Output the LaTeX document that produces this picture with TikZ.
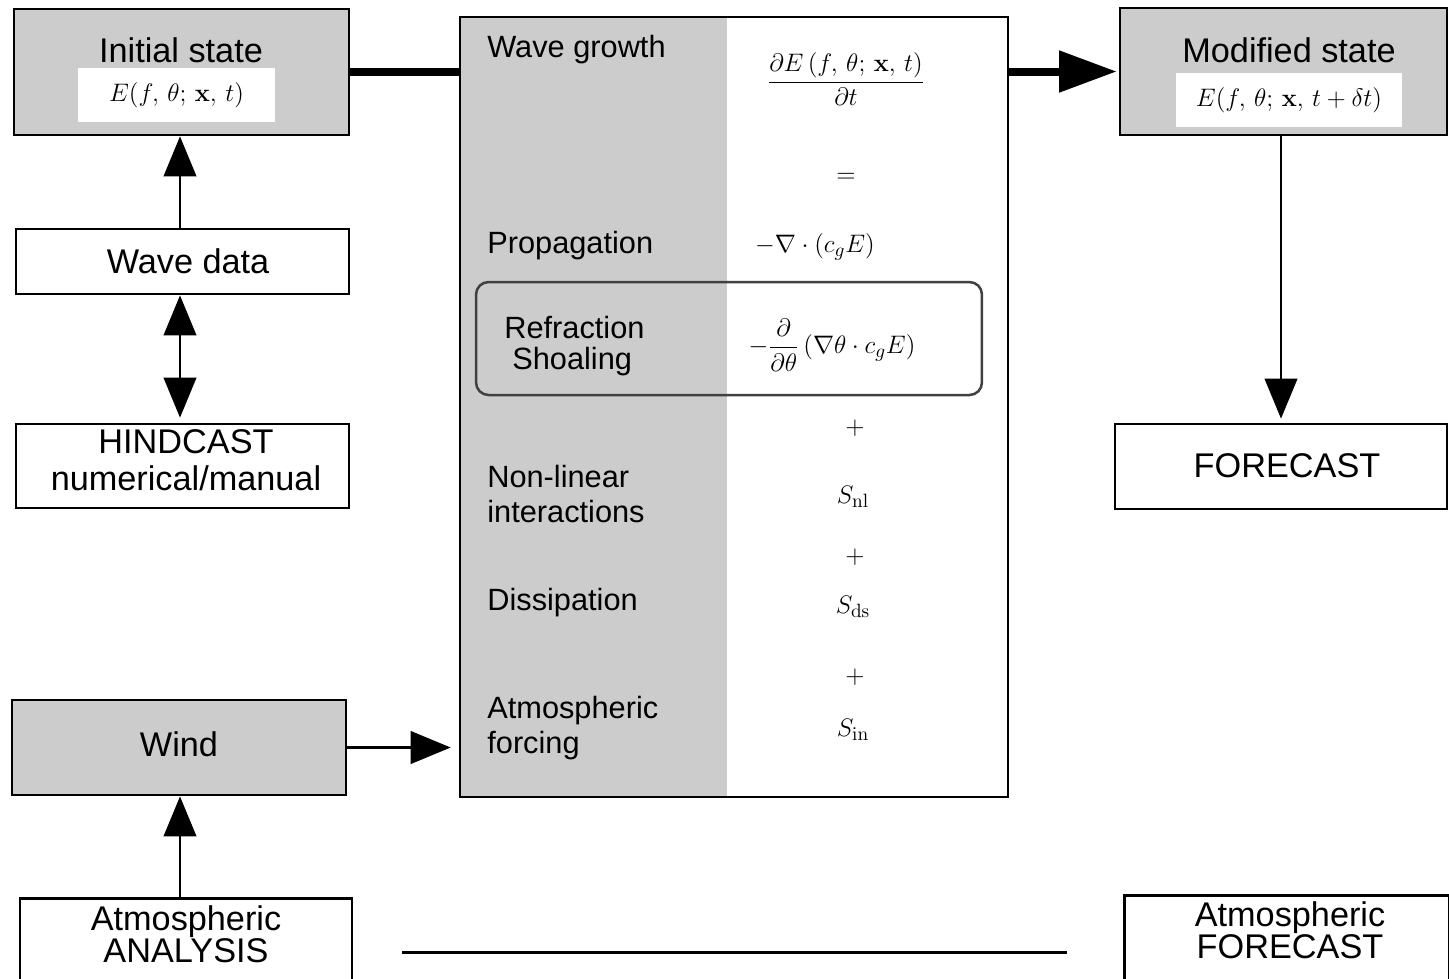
\documentclass[tikz,border=0pt]{standalone}
\usepackage{amsmath}
\usepackage{amssymb}
\usepackage[no-math]{fontspec}
\setmainfont{Liberation Sans}
\usepackage{tikz}
\usetikzlibrary{shapes, arrows.meta, positioning, calc}

\definecolor{gristrait}{RGB}{204,204,204}

\tikzset{
  boite/.style={draw, line width=0.055cm, inner sep=0pt},
  boitegrise/.style={boite, fill=gristrait},
  encart/.style={fill=white, inner sep=0pt, font=\fontsize{15}{18}\selectfont},
  titre/.style={inner sep=0pt, align=center, font=\fontsize{19.5}{20}\selectfont},
  etiq/.style={anchor=west, inner sep=0pt, align=left, font=\fontsize{17.5}{20}\selectfont},
  terme/.style={inner sep=0pt, font=\fontsize{15}{18}\selectfont},
  fleche/.style={line width=0.05cm, -{Triangle[width=0.65cm,length=0.8cm]}},
  grosfleche/.style={line width=0.16cm, -{Triangle[width=0.8cm,length=1.15cm]}}
}

\begin{document}
\begin{tikzpicture}[x=0.02cm, y=-0.02cm]
            % Cadre de l'image (les boites du bas sont coupees)
            \clip (0,0) rectangle (1449,978);

            % Etat initial
            \node[boitegrise, minimum width=6.7cm, minimum height=2.52cm] (init) at (181.5,72) {};
            \node[titre] (inittitre) at (181,50) {Initial state};
            \node[encart, minimum width=3.94cm, minimum height=1.08cm] (initE) at (176.5,95) {$E(f,\,\theta;\,\mathbf{x},\,t)$};

            % Donnees de vagues et hindcast
            \node[boite, minimum width=6.66cm, minimum height=1.3cm] (vagues) at (182.5,261.5) {};
            \node[titre] (vaguestxt) at (188,261) {Wave data};
            \node[boite, minimum width=6.66cm, minimum height=1.68cm] (hindcast) at (182.5,466) {};
            \node[titre, font=\fontsize{19.5}{21}\selectfont] (hindcasttxt) at (186,460) {HINDCAST\\numerical/manual};

            % Vent et analyse atmospherique
            \node[boitegrise, minimum width=6.68cm, minimum height=1.9cm] (vent) at (179,747.5) {};
            \node[titre] (venttxt) at (179,744) {Wind};
            \node[boite, anchor=north, minimum width=6.64cm, minimum height=2.4cm] (analyse) at (186,897) {};
            \node[titre, font=\fontsize{19.5}{18.5}\selectfont] (analysetxt) at (186,934) {Atmospheric\\ANALYSIS};

            % Modele (colonne grise a gauche)
            \node[boite, fill=white, minimum width=10.96cm, minimum height=15.6cm,
                  path picture={\fill[gristrait] (path picture bounding box.north west) rectangle ([xshift=5.34cm]path picture bounding box.south west);}] (modele) at (734,407) {};
            \node[draw=black!75, line width=0.05cm, rounded corners=0.25cm, minimum width=10.12cm, minimum height=2.26cm] (refr) at (729,338.5) {};

            % Etiquettes de la colonne de gauche
            \node[etiq] (lcroiss) at (487,50) {Wave growth};
            \node[etiq] (lprop) at (487,246) {Propagation};
            \node[etiq] (lrefr) at (504,327) {Refraction};
            \node[etiq] (lshoal) at (512,362) {Shoaling};
            \node[etiq] (lnl) at (487,494) {Non-linear\\interactions};
            \node[etiq] (ldiss) at (487,603) {Dissipation};
            \node[etiq] (latm) at (487,728) {Atmospheric\\forcing};

            % Termes de l'equation
            \node[terme] (tcroiss) at (846,79) {$\dfrac{\partial E\,(f,\,\theta;\,\mathbf{x},\,t)}{\partial t}$};
            \node[terme] (tegal) at (846,178) {$=$};
            \node[terme] (tprop) at (815,247) {$-\nabla\cdot(c_{g}E)$};
            \node[terme] (trefr) at (832,345) {$-\dfrac{\partial}{\partial\theta}\,(\nabla\theta\cdot c_{g}E)$};
            \node[terme] (tplus1) at (855,428) {$+$};
            \node[terme] (tnl) at (853,497) {$S_{\mathrm{nl}}$};
            \node[terme] (tplus2) at (855,557) {$+$};
            \node[terme] (tds) at (853,607) {$S_{\mathrm{ds}}$};
            \node[terme] (tplus3) at (855,677) {$+$};
            \node[terme] (tin) at (853,730) {$S_{\mathrm{in}}$};

            % Etat modifie et previsions
            \node[boitegrise, minimum width=6.54cm, minimum height=2.54cm] (modif) at (1283.5,71.5) {};
            \node[titre] (modiftitre) at (1289,50) {Modified state};
            \node[encart, minimum width=4.52cm, minimum height=1.08cm] (modifE) at (1289,100) {$E(f,\,\theta;\,\mathbf{x},\,t+\delta t)$};
            \node[boite, minimum width=6.64cm, minimum height=1.7cm] (prev) at (1281,466.5) {};
            \node[titre] (prevtxt) at (1287,466) {FORECAST};
            \node[boite, anchor=north, minimum width=6.5cm, minimum height=2.4cm] (atmprev) at (1287,894) {};
            \node[titre, font=\fontsize{19.5}{18.5}\selectfont] (atmprevtxt) at (1290,930) {Atmospheric\\FORECAST};

            % Liaisons
            \draw[line width=0.16cm] (init.east) -- (init.east -| modele.west);
            \draw[grosfleche, shorten >=0.04cm] (modif.west -| modele.east) -- (modif.west);
            \draw[fleche, shorten >=0.08cm] (modif.south -| prev.north) -- (prev.north);
            \draw[fleche] (vagues.north -| 180,0) -- (init.south -| 180,0);
            \draw[fleche, {Triangle[width=0.65cm,length=0.8cm]}-{Triangle[width=0.65cm,length=0.8cm]}, shorten >=0.1cm] (vagues.south -| 180,0) -- (hindcast.north -| 180,0);
            \draw[fleche, shorten >=0.16cm] (vent.east) -- (vent.east -| modele.west);
            \draw[fleche] (analyse.north -| 180,0) -- (vent.south -| 180,0);

            % Trait entre les deux analyses atmospheriques
            \coordinate (traitG) at (402,952);
            \coordinate (traitD) at (1067,952);
            \draw[line width=0.06cm] (traitG) -- (traitD);
        \end{tikzpicture}
\end{document}
